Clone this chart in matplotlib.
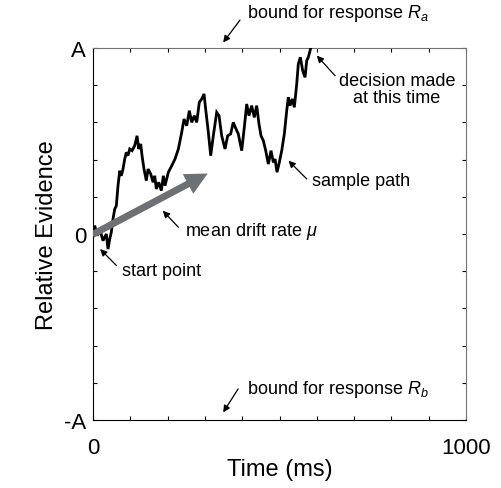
import matplotlib
matplotlib.use("Agg")
import matplotlib.pyplot as plt
from matplotlib.patches import FancyArrowPatch

plt.rcParams["font.family"] = ["Liberation Sans", "DejaVu Sans"]
plt.rcParams["mathtext.fontset"] = "custom"
plt.rcParams["mathtext.rm"] = "Liberation Sans"
plt.rcParams["mathtext.it"] = "Liberation Sans:italic"

# sample path (time in ms, evidence in units of A)
time_ms = [
    0, 4.6, 11.5, 18, 26.8, 35.7, 40.2, 44.8, 49, 53.6, 58.2, 62.5, 67, 71.6,
    75.9, 80.4, 85, 89.3, 93.8, 98.4, 104.6, 111.8, 118, 122.5, 127.9, 131.4,
    136.7, 142.9, 147.5, 154.7, 160.9, 165.4, 169.7, 176.1, 183.1, 188.5, 193,
    202, 211, 219.8, 228.8, 237.8, 244, 251.2, 258.2, 264.6, 271.6, 278, 285,
    291.4, 297.6, 303, 309.2, 315.5, 322.5, 331.6, 337.8, 345, 353.9, 361, 369,
    376, 383.4, 389.5, 398.6, 405.6, 412, 418.2, 425.4, 432.4, 438.8, 445,
    450.4, 456.6, 463, 470, 477.2, 483.4, 488, 493.3, 499.5, 505.9, 512.9,
    519.3, 523.6, 528.2, 534.3, 539.7, 546.1, 550.4, 555.8, 562.2, 568.4,
    572.9, 577.2, 581.8, 583.6,
]
evidence = [
    0, 0.045, -0.009, 0.027, -0.036, 0, -0.081, -0.027, 0.009, 0.081, 0.134,
    0.152, 0.26, 0.34, 0.313, 0.349, 0.403, 0.439, 0.421, 0.457, 0.448, 0.475,
    0.528, 0.457, 0.484, 0.421, 0.349, 0.287, 0.349, 0.323, 0.278, 0.313,
    0.242, 0.278, 0.233, 0.313, 0.26, 0.332, 0.367, 0.403, 0.457, 0.547,
    0.618, 0.582, 0.663, 0.6, 0.636, 0.6, 0.708, 0.726, 0.753, 0.654, 0.547,
    0.421, 0.528, 0.654, 0.636, 0.528, 0.457, 0.528, 0.538, 0.6, 0.565,
    0.538, 0.448, 0.573, 0.699, 0.636, 0.69, 0.627, 0.69, 0.591, 0.528,
    0.502, 0.448, 0.376, 0.448, 0.385, 0.403, 0.332, 0.385, 0.448, 0.538,
    0.663, 0.735, 0.69, 0.726, 0.681, 0.806, 0.914, 0.95, 0.878, 0.842,
    0.932, 0.95, 0.985, 1.0,
]

drift_start = (-8, -0.01)
drift_end = (314, 0.332)

y_ticks = [-1, -0.8, -0.6, -0.4, -0.2, 0, 0.2, 0.4, 0.6, 0.8, 1]
y_labels = ["-A", "", "", "", "", "0", "", "", "", "", "A"]
x_ticks = [0, 100, 200, 300, 400, 500, 600, 700, 800, 900, 1000]
x_labels = ["0", "", "", "", "", "", "", "", "", "", "1000"]

fig = plt.figure(figsize=(5.02, 4.89), dpi=100)
ax = fig.add_axes([0.1853, 0.1391, 0.743, 0.7607])

ax.plot(time_ms, evidence, color="black", lw=2.0, zorder=3,
        solid_joinstyle="miter")

drift = FancyArrowPatch(
    drift_start, drift_end,
    arrowstyle="simple,head_length=0.8,head_width=0.8,tail_width=0.25",
    mutation_scale=20, color="#6b7175", lw=0, zorder=4,
)
ax.add_patch(drift)

ax.set_xlim(0, 1000)
ax.set_ylim(-1, 1)
ax.set_xticks(x_ticks)
ax.set_xticklabels(x_labels)
ax.set_yticks(y_ticks)
ax.set_yticklabels(y_labels)
ax.tick_params(direction="in", length=3, width=0.8, top=True, right=True,
               labelsize=16)
ax.tick_params(axis="x", pad=12)
ax.tick_params(axis="y", pad=5)
for side in ["top", "right"]:
    ax.spines[side].set_color("0.45")
ax.set_xlabel("Time (ms)", fontsize=17, labelpad=0)
ax.set_ylabel("Relative Evidence", fontsize=17, labelpad=4)

arrow_kw = dict(arrowstyle="-|>", color="black", lw=0.9,
                mutation_scale=10, shrinkA=0, shrinkB=0)
ann_fs = 13

ax.annotate("", xy=(349, 1.03), xytext=(394, 1.15), arrowprops=arrow_kw,
            annotation_clip=False)
ax.text(413, 1.19, r"bound for response $R_a$", fontsize=ann_fs,
        va="center", ha="left", clip_on=False)

ax.annotate("", xy=(600, 0.959), xytext=(649, 0.851), arrowprops=arrow_kw)
ax.text(815, 0.78, "decision made\nat this time", fontsize=ann_fs,
        va="center", ha="center", linespacing=1.0)

ax.annotate("", xy=(524, 0.394), xytext=(573, 0.296), arrowprops=arrow_kw)
ax.text(586, 0.287, "sample path", fontsize=ann_fs, va="center", ha="left")

ax.annotate("", xy=(187, 0.125), xytext=(229, 0.036), arrowprops=arrow_kw)
ax.text(247, 0.018, r"mean drift rate $\mu$", fontsize=ann_fs,
        va="center", ha="left")

ax.annotate("", xy=(19, -0.081), xytext=(63, -0.17), arrowprops=arrow_kw)
ax.text(77, -0.197, "start point", fontsize=ann_fs, va="center", ha="left")

ax.annotate("", xy=(349, -0.959), xytext=(389, -0.833), arrowprops=arrow_kw)
ax.text(413, -0.833, r"bound for response $R_b$", fontsize=ann_fs,
        va="center", ha="left")

fig.savefig("out.png", dpi=100)
